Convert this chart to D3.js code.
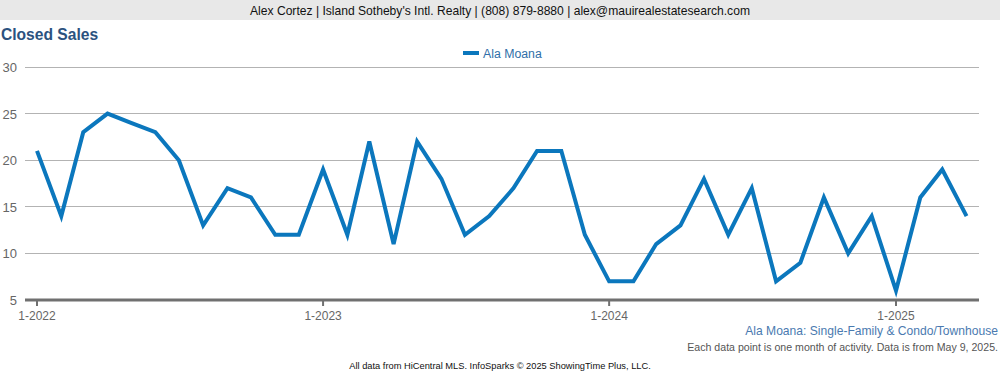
<!DOCTYPE html>
<html>
<head>
<meta charset="utf-8">
<script src="https://cdn.jsdelivr.net/npm/d3@7"></script>
<style>
  body { margin: 0; background: #fff; font-family: Arial, "Liberation Sans", sans-serif; }
  svg { display: block; }
</style>
</head>
<body>
<svg id="chart" width="1000" height="375"></svg>
<script>
// monthly closed sales, Jan 2022 .. Apr 2025
const months = d3.range(40).map(i => new Date(2022, i, 1));
const sales = [21, 14, 23, 25, 24, 23, 20, 13, 17, 16, 12, 12,
               19, 12, 22, 11, 22, 18, 12, 14, 17, 21, 21, 12,
               7, 7, 11, 13, 18, 12, 17, 7, 9, 16, 10, 14,
               6, 16, 19, 14];
const yTicks = [5, 10, 15, 20, 25, 30];
const xTicks = [new Date(2022, 0, 1), new Date(2023, 0, 1), new Date(2024, 0, 1), new Date(2025, 0, 1)];
const seriesName = 'Ala Moana';

const svg = d3.select('#chart');
const blue = '#0b77bd';

// header bar
svg.append('rect').attr('x', 0).attr('y', 0).attr('width', 1000).attr('height', 20).attr('fill', '#e8e8e8');
svg.append('text').attr('x', 500).attr('y', 15).attr('text-anchor', 'middle')
  .attr('font-size', 12.1).attr('fill', '#111')
  .text("Alex Cortez | Island Sotheby's Intl. Realty | (808) 879-8880 | alex@mauirealestatesearch.com");

svg.append('text').attr('x', 1).attr('y', 40).attr('font-size', 15.6).attr('font-weight', 'bold')
  .attr('fill', '#2b527f').text('Closed Sales');

// legend
const lg = svg.append('g');
lg.append('rect').attr('x', 463).attr('y', 51).attr('width', 16).attr('height', 4).attr('fill', blue);
lg.append('text').attr('x', 483).attr('y', 58).attr('font-size', 12.3).attr('fill', '#2f6fa8').text(seriesName);

const x = d3.scaleTime().domain([new Date(2022, 0, 1), new Date(2025, 0, 1)]).range([37, 896]);
const y = d3.scaleLinear().domain([5, 30]).range([300, 67]);

// grid
svg.append('g').selectAll('line').data(yTicks.filter(d => d > 5)).join('line')
  .attr('x1', 25).attr('x2', 979).attr('y1', d => y(d)).attr('y2', d => y(d))
  .attr('stroke', '#b3b3b3').attr('stroke-width', 1).attr('shape-rendering', 'crispEdges');

svg.append('g').selectAll('text').data(yTicks).join('text')
  .attr('x', 17).attr('y', d => y(d) + 5).attr('text-anchor', 'end')
  .attr('font-size', 13).attr('fill', '#666').text(d => d);

// x axis
svg.append('line').attr('x1', 25).attr('x2', 979).attr('y1', y(5)).attr('y2', y(5))
  .attr('stroke', '#707070').attr('stroke-width', 3);
const xa = svg.append('g').selectAll('g').data(xTicks).join('g')
  .attr('transform', d => `translate(${x(d)},${y(5)})`);
xa.append('line').attr('y1', 0).attr('y2', 6).attr('stroke', '#707070').attr('stroke-width', 2);
xa.append('text').attr('y', 20).attr('text-anchor', 'middle').attr('font-size', 12).attr('fill', '#666')
  .text(d => `${d.getMonth() + 1}-${d.getFullYear()}`);

// line
svg.append('path').datum(sales)
  .attr('d', d3.line().x((d, i) => x(months[i])).y(d => y(d)))
  .attr('fill', 'none').attr('stroke', blue).attr('stroke-width', 4)
  .attr('stroke-linejoin', 'miter');

// notes
svg.append('text').attr('x', 998).attr('y', 335).attr('text-anchor', 'end').attr('font-size', 12.1)
  .attr('fill', '#4a7ab0').text('Ala Moana: Single-Family & Condo/Townhouse');
svg.append('text').attr('x', 998).attr('y', 351).attr('text-anchor', 'end').attr('font-size', 10.6)
  .attr('fill', '#555').text('Each data point is one month of activity. Data is from May 9, 2025.');
svg.append('text').attr('x', 500).attr('y', 369).attr('text-anchor', 'middle').attr('font-size', 9.3)
  .attr('fill', '#111').text('All data from HiCentral MLS. InfoSparks © 2025 ShowingTime Plus, LLC.');
</script>
</body>
</html>
